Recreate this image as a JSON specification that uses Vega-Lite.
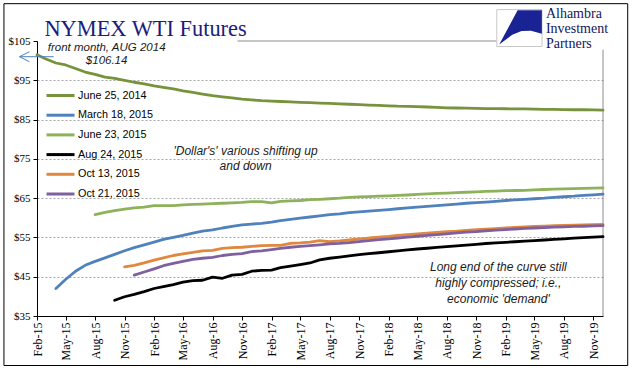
{
  "$schema": "https://vega.github.io/schema/vega-lite/v6.json",
  "autosize": {"type": "none"},
  "padding": {"left": 37, "top": 41, "right": 38, "bottom": 70},
  "width": 566,
  "height": 275,
  "background": "white",
  "config": {
    "view": {"stroke": null},
    "font": "Liberation Sans",
    "axis": {"labelOverlap": false, "labelFlush": false}
  },
  "layer": [
    {
      "data": {"values": [{}]},
      "mark": {"type": "rect", "fill": "#FFFFFF", "fillOpacity": 0, "stroke": "#000000", "strokeWidth": 1, "clip": false},
      "encoding": {
        "x": {"datum": {"year": 2014, "month": 10, "date": 21, "utc": true}, "type": "temporal"},
        "x2": {"datum": {"year": 2020, "month": 2, "date": 16, "utc": true}},
        "y": {"datum": 114.5, "type": "quantitative"},
        "y2": {"datum": 22.4}
      }
    },
    {
      "data": {"values": [{}]},
      "mark": {"type": "rule", "stroke": "#8C8C8C", "strokeWidth": 1},
      "encoding": {
        "x": {"datum": {"year": 2019, "month": 12, "date": 1, "utc": true}, "type": "temporal"},
        "y": {"datum": 35, "type": "quantitative"},
        "y2": {"datum": 102.8}
      }
    },
    {
      "data": {"values": [{}]},
      "mark": {"type": "rule", "stroke": "#8C8C8C", "strokeWidth": 1},
      "encoding": {
        "x": {"datum": {"year": 2016, "month": 10, "date": 18, "utc": true}, "type": "temporal"},
        "x2": {"datum": {"year": 2019, "month": 1, "date": 4, "utc": true}},
        "y": {"datum": 105, "type": "quantitative"}
      }
    },
    {
      "data": {
        "values": [
          {"month": "2015-02-01", "June 25, 2014": 101.5},
          {"month": "2015-03-01", "June 25, 2014": 100.4},
          {"month": "2015-04-01", "June 25, 2014": 99.4, "March 18, 2015": 42.0},
          {"month": "2015-05-01", "June 25, 2014": 98.9, "March 18, 2015": 44.3},
          {"month": "2015-06-01", "June 25, 2014": 98.0, "March 18, 2015": 46.4},
          {"month": "2015-07-01", "June 25, 2014": 97.1, "March 18, 2015": 47.9},
          {"month": "2015-08-01", "June 25, 2014": 96.5, "March 18, 2015": 48.9, "June 23, 2015": 60.8},
          {"month": "2015-09-01", "June 25, 2014": 95.8, "March 18, 2015": 49.8, "June 23, 2015": 61.4},
          {"month": "2015-10-01", "June 25, 2014": 95.5, "March 18, 2015": 50.7, "June 23, 2015": 61.8, "Aug 24, 2015": 39.0},
          {"month": "2015-11-01", "June 25, 2014": 95.0, "March 18, 2015": 51.6, "June 23, 2015": 62.2, "Aug 24, 2015": 39.9, "Oct 13, 2015": 47.5},
          {"month": "2015-12-01", "June 25, 2014": 94.5, "March 18, 2015": 52.4, "June 23, 2015": 62.5, "Aug 24, 2015": 40.5, "Oct 13, 2015": 47.9, "Oct 21, 2015": 45.4},
          {"month": "2016-01-01", "June 25, 2014": 94.1, "March 18, 2015": 53.1, "June 23, 2015": 62.7, "Aug 24, 2015": 41.2, "Oct 13, 2015": 48.5, "Oct 21, 2015": 46.2},
          {"month": "2016-02-01", "June 25, 2014": 93.6, "March 18, 2015": 53.8, "June 23, 2015": 63.1, "Aug 24, 2015": 42.0, "Oct 13, 2015": 49.2, "Oct 21, 2015": 47.0},
          {"month": "2016-03-01", "June 25, 2014": 93.2, "March 18, 2015": 54.5, "June 23, 2015": 63.1, "Aug 24, 2015": 42.5, "Oct 13, 2015": 49.8, "Oct 21, 2015": 47.8},
          {"month": "2016-04-01", "June 25, 2014": 92.8, "March 18, 2015": 55.0, "June 23, 2015": 63.1, "Aug 24, 2015": 43.0, "Oct 13, 2015": 50.4, "Oct 21, 2015": 48.4},
          {"month": "2016-05-01", "June 25, 2014": 92.3, "March 18, 2015": 55.5, "June 23, 2015": 63.3, "Aug 24, 2015": 43.6, "Oct 13, 2015": 50.8, "Oct 21, 2015": 48.9},
          {"month": "2016-06-01", "June 25, 2014": 91.9, "March 18, 2015": 56.1, "June 23, 2015": 63.4, "Aug 24, 2015": 44.0, "Oct 13, 2015": 51.2, "Oct 21, 2015": 49.4},
          {"month": "2016-07-01", "June 25, 2014": 91.5, "March 18, 2015": 56.6, "June 23, 2015": 63.5, "Aug 24, 2015": 44.1, "Oct 13, 2015": 51.6, "Oct 21, 2015": 49.7},
          {"month": "2016-08-01", "June 25, 2014": 91.1, "March 18, 2015": 56.9, "June 23, 2015": 63.6, "Aug 24, 2015": 44.9, "Oct 13, 2015": 51.7, "Oct 21, 2015": 49.9},
          {"month": "2016-09-01", "June 25, 2014": 90.8, "March 18, 2015": 57.4, "June 23, 2015": 63.7, "Aug 24, 2015": 44.6, "Oct 13, 2015": 52.2, "Oct 21, 2015": 50.4},
          {"month": "2016-10-01", "June 25, 2014": 90.5, "March 18, 2015": 57.8, "June 23, 2015": 63.8, "Aug 24, 2015": 45.4, "Oct 13, 2015": 52.4, "Oct 21, 2015": 50.7},
          {"month": "2016-11-01", "June 25, 2014": 90.2, "March 18, 2015": 58.2, "June 23, 2015": 63.9, "Aug 24, 2015": 45.6, "Oct 13, 2015": 52.5, "Oct 21, 2015": 50.9},
          {"month": "2016-12-01", "June 25, 2014": 90.0, "March 18, 2015": 58.4, "June 23, 2015": 64.1, "Aug 24, 2015": 46.4, "Oct 13, 2015": 52.7, "Oct 21, 2015": 51.4},
          {"month": "2017-01-01", "June 25, 2014": 89.8, "March 18, 2015": 58.6, "June 23, 2015": 64.1, "Aug 24, 2015": 46.6, "Oct 13, 2015": 52.9, "Oct 21, 2015": 51.6},
          {"month": "2017-02-01", "June 25, 2014": 89.7, "March 18, 2015": 58.9, "June 23, 2015": 63.8, "Aug 24, 2015": 46.7, "Oct 13, 2015": 53.0, "Oct 21, 2015": 51.9},
          {"month": "2017-03-01", "June 25, 2014": 89.6, "March 18, 2015": 59.3, "June 23, 2015": 64.2, "Aug 24, 2015": 47.3, "Oct 13, 2015": 53.0, "Oct 21, 2015": 52.2},
          {"month": "2017-04-01", "June 25, 2014": 89.5, "March 18, 2015": 59.6, "June 23, 2015": 64.3, "Aug 24, 2015": 47.7, "Oct 13, 2015": 53.5, "Oct 21, 2015": 52.5},
          {"month": "2017-05-01", "June 25, 2014": 89.4, "March 18, 2015": 59.9, "June 23, 2015": 64.4, "Aug 24, 2015": 48.1, "Oct 13, 2015": 53.6, "Oct 21, 2015": 52.7},
          {"month": "2017-06-01", "June 25, 2014": 89.3, "March 18, 2015": 60.2, "June 23, 2015": 64.6, "Aug 24, 2015": 48.5, "Oct 13, 2015": 53.8, "Oct 21, 2015": 52.9},
          {"month": "2017-07-01", "June 25, 2014": 89.2, "March 18, 2015": 60.5, "June 23, 2015": 64.7, "Aug 24, 2015": 49.3, "Oct 13, 2015": 54.2, "Oct 21, 2015": 53.1},
          {"month": "2017-08-01", "June 25, 2014": 89.1, "March 18, 2015": 60.8, "June 23, 2015": 64.85, "Aug 24, 2015": 49.7, "Oct 13, 2015": 53.9, "Oct 21, 2015": 53.35},
          {"month": "2017-09-01", "June 25, 2014": 89.0, "March 18, 2015": 61.0, "June 23, 2015": 65.0, "Aug 24, 2015": 50.0, "Oct 13, 2015": 54.1, "Oct 21, 2015": 53.5},
          {"month": "2017-10-01", "June 25, 2014": 88.9, "March 18, 2015": 61.3, "June 23, 2015": 65.2, "Aug 24, 2015": 50.3, "Oct 13, 2015": 54.35, "Oct 21, 2015": 53.7},
          {"month": "2017-11-01", "June 25, 2014": 88.8, "March 18, 2015": 61.5, "June 23, 2015": 65.3, "Aug 24, 2015": 50.6, "Oct 13, 2015": 54.6, "Oct 21, 2015": 53.95},
          {"month": "2017-12-01", "June 25, 2014": 88.7, "March 18, 2015": 61.7, "June 23, 2015": 65.4, "Aug 24, 2015": 50.9, "Oct 13, 2015": 54.85, "Oct 21, 2015": 54.2},
          {"month": "2018-01-01", "June 25, 2014": 88.6, "March 18, 2015": 61.9, "June 23, 2015": 65.5, "Aug 24, 2015": 51.1, "Oct 13, 2015": 55.05, "Oct 21, 2015": 54.45},
          {"month": "2018-02-01", "June 25, 2014": 88.5, "March 18, 2015": 62.1, "June 23, 2015": 65.6, "Aug 24, 2015": 51.35, "Oct 13, 2015": 55.25, "Oct 21, 2015": 54.65},
          {"month": "2018-03-01", "June 25, 2014": 88.4, "March 18, 2015": 62.3, "June 23, 2015": 65.7, "Aug 24, 2015": 51.6, "Oct 13, 2015": 55.5, "Oct 21, 2015": 54.85},
          {"month": "2018-04-01", "June 25, 2014": 88.35, "March 18, 2015": 62.5, "June 23, 2015": 65.8, "Aug 24, 2015": 51.85, "Oct 13, 2015": 55.7, "Oct 21, 2015": 55.1},
          {"month": "2018-05-01", "June 25, 2014": 88.3, "March 18, 2015": 62.7, "June 23, 2015": 65.95, "Aug 24, 2015": 52.05, "Oct 13, 2015": 55.9, "Oct 21, 2015": 55.3},
          {"month": "2018-06-01", "June 25, 2014": 88.2, "March 18, 2015": 62.9, "June 23, 2015": 66.1, "Aug 24, 2015": 52.25, "Oct 13, 2015": 56.1, "Oct 21, 2015": 55.5},
          {"month": "2018-07-01", "June 25, 2014": 88.1, "March 18, 2015": 63.1, "June 23, 2015": 66.2, "Aug 24, 2015": 52.45, "Oct 13, 2015": 56.3, "Oct 21, 2015": 55.7},
          {"month": "2018-08-01", "June 25, 2014": 88.0, "March 18, 2015": 63.3, "June 23, 2015": 66.3, "Aug 24, 2015": 52.65, "Oct 13, 2015": 56.45, "Oct 21, 2015": 55.9},
          {"month": "2018-09-01", "June 25, 2014": 87.95, "March 18, 2015": 63.5, "June 23, 2015": 66.4, "Aug 24, 2015": 52.85, "Oct 13, 2015": 56.6, "Oct 21, 2015": 56.15},
          {"month": "2018-10-01", "June 25, 2014": 87.9, "March 18, 2015": 63.7, "June 23, 2015": 66.5, "Aug 24, 2015": 53.05, "Oct 13, 2015": 56.8, "Oct 21, 2015": 56.35},
          {"month": "2018-11-01", "June 25, 2014": 87.85, "March 18, 2015": 63.85, "June 23, 2015": 66.6, "Aug 24, 2015": 53.25, "Oct 13, 2015": 56.95, "Oct 21, 2015": 56.5},
          {"month": "2018-12-01", "June 25, 2014": 87.8, "March 18, 2015": 64.0, "June 23, 2015": 66.7, "Aug 24, 2015": 53.45, "Oct 13, 2015": 57.1, "Oct 21, 2015": 56.7},
          {"month": "2019-01-01", "June 25, 2014": 87.8, "March 18, 2015": 64.2, "June 23, 2015": 66.8, "Aug 24, 2015": 53.6, "Oct 13, 2015": 57.25, "Oct 21, 2015": 56.85},
          {"month": "2019-02-01", "June 25, 2014": 87.75, "March 18, 2015": 64.4, "June 23, 2015": 66.9, "Aug 24, 2015": 53.75, "Oct 13, 2015": 57.4, "Oct 21, 2015": 57.0},
          {"month": "2019-03-01", "June 25, 2014": 87.7, "March 18, 2015": 64.55, "June 23, 2015": 66.95, "Aug 24, 2015": 53.9, "Oct 13, 2015": 57.55, "Oct 21, 2015": 57.15},
          {"month": "2019-04-01", "June 25, 2014": 87.7, "March 18, 2015": 64.7, "June 23, 2015": 67.0, "Aug 24, 2015": 54.05, "Oct 13, 2015": 57.7, "Oct 21, 2015": 57.3},
          {"month": "2019-05-01", "June 25, 2014": 87.65, "March 18, 2015": 64.85, "June 23, 2015": 67.1, "Aug 24, 2015": 54.2, "Oct 13, 2015": 57.8, "Oct 21, 2015": 57.4},
          {"month": "2019-06-01", "June 25, 2014": 87.6, "March 18, 2015": 65.0, "June 23, 2015": 67.2, "Aug 24, 2015": 54.35, "Oct 13, 2015": 57.9, "Oct 21, 2015": 57.5},
          {"month": "2019-07-01", "June 25, 2014": 87.6, "March 18, 2015": 65.2, "June 23, 2015": 67.3, "Aug 24, 2015": 54.5, "Oct 13, 2015": 58.0, "Oct 21, 2015": 57.6},
          {"month": "2019-08-01", "June 25, 2014": 87.55, "March 18, 2015": 65.35, "June 23, 2015": 67.35, "Aug 24, 2015": 54.65, "Oct 13, 2015": 58.05, "Oct 21, 2015": 57.7},
          {"month": "2019-09-01", "June 25, 2014": 87.5, "March 18, 2015": 65.5, "June 23, 2015": 67.4, "Aug 24, 2015": 54.8, "Oct 13, 2015": 58.1, "Oct 21, 2015": 57.8},
          {"month": "2019-10-01", "June 25, 2014": 87.5, "March 18, 2015": 65.7, "June 23, 2015": 67.5, "Aug 24, 2015": 54.95, "Oct 13, 2015": 58.2, "Oct 21, 2015": 57.85},
          {"month": "2019-11-01", "June 25, 2014": 87.45, "March 18, 2015": 65.85, "June 23, 2015": 67.55, "Aug 24, 2015": 55.1, "Oct 13, 2015": 58.25, "Oct 21, 2015": 57.95},
          {"month": "2019-12-01", "June 25, 2014": 87.4, "March 18, 2015": 66.0, "June 23, 2015": 67.6, "Aug 24, 2015": 55.2, "Oct 13, 2015": 58.3, "Oct 21, 2015": 58.0}
        ]
      },
      "transform": [
        {"fold": ["June 25, 2014", "March 18, 2015", "June 23, 2015", "Aug 24, 2015", "Oct 13, 2015", "Oct 21, 2015"], "as": ["series", "price"]}
      ],
      "mark": {"type": "line", "strokeWidth": 2.8, "strokeJoin": "round", "strokeCap": "round"},
      "encoding": {
        "x": {
          "field": "month",
          "type": "temporal",
          "scale": {"type": "utc", "domain": [{"year": 2015, "month": 2, "date": 1, "utc": true}, {"year": 2019, "month": 12, "date": 1, "utc": true}]},
          "axis": {
            "title": null,
            "format": "%b-%y",
            "labelAngle": 270,
            "labelFont": "Liberation Serif",
            "labelFontSize": 12,
            "labelColor": "#000",
            "labelPadding": 2,
            "tickSize": 4,
            "tickColor": "#000",
            "tickCount": 60,
            "domainColor": "#000",
            "grid": false,
            "labelOverlap": false,
            "labelFlush": false,
            "values": [
              {"year": 2015, "month": 2, "date": 1, "utc": true},
              {"year": 2015, "month": 5, "date": 1, "utc": true},
              {"year": 2015, "month": 8, "date": 1, "utc": true},
              {"year": 2015, "month": 11, "date": 1, "utc": true},
              {"year": 2016, "month": 2, "date": 1, "utc": true},
              {"year": 2016, "month": 5, "date": 1, "utc": true},
              {"year": 2016, "month": 8, "date": 1, "utc": true},
              {"year": 2016, "month": 11, "date": 1, "utc": true},
              {"year": 2017, "month": 2, "date": 1, "utc": true},
              {"year": 2017, "month": 5, "date": 1, "utc": true},
              {"year": 2017, "month": 8, "date": 1, "utc": true},
              {"year": 2017, "month": 11, "date": 1, "utc": true},
              {"year": 2018, "month": 2, "date": 1, "utc": true},
              {"year": 2018, "month": 5, "date": 1, "utc": true},
              {"year": 2018, "month": 8, "date": 1, "utc": true},
              {"year": 2018, "month": 11, "date": 1, "utc": true},
              {"year": 2019, "month": 2, "date": 1, "utc": true},
              {"year": 2019, "month": 5, "date": 1, "utc": true},
              {"year": 2019, "month": 8, "date": 1, "utc": true},
              {"year": 2019, "month": 11, "date": 1, "utc": true}
            ]
          }
        },
        "y": {
          "field": "price",
          "type": "quantitative",
          "scale": {"domain": [35, 105], "nice": false, "zero": false},
          "axis": {
            "title": null,
            "values": [35, 45, 55, 65, 75, 85, 95, 105],
            "tickCount": 40,
            "format": "$.0f",
            "labelFont": "Liberation Serif",
            "labelFontSize": 11,
            "labelColor": "#000",
            "labelPadding": 3,
            "labelOverlap": false,
            "labelFlush": false,
            "tickSize": 4,
            "tickColor": "#000",
            "domainColor": "#000",
            "grid": true,
            "gridColor": "#A6A6A6",
            "gridDash": [2, 2],
            "gridOpacity": {"condition": {"test": "datum.value == 35 || datum.value == 105", "value": 0}, "value": 1}
          }
        },
        "color": {
          "field": "series",
          "type": "nominal",
          "sort": null,
          "scale": {
            "domain": ["June 25, 2014", "March 18, 2015", "June 23, 2015", "Aug 24, 2015", "Oct 13, 2015", "Oct 21, 2015"],
            "range": ["#77933C", "#4F81BD", "#8DB259", "#000000", "#E0883F", "#7E60A0"]
          },
          "legend": {
            "orient": "none",
            "legendX": 15,
            "legendY": 46,
            "title": null,
            "padding": 0,
            "symbolType": "M-2,0H2",
            "symbolStrokeWidth": 3,
            "symbolSize": 196,
            "labelFont": "Liberation Sans",
            "labelFontSize": 10.8,
            "labelColor": "#000",
            "labelOffset": 9,
            "rowPadding": 4.7
          }
        }
      }
    },
    {
      "data": {"values": [{}]},
      "mark": {"type": "rule", "stroke": "#4F81BD", "strokeWidth": 1, "clip": false},
      "encoding": {
        "x": {"datum": {"year": 2014, "month": 12, "date": 9, "utc": true}, "type": "temporal"},
        "x2": {"datum": {"year": 2015, "month": 3, "date": 25, "utc": true}},
        "y": {"datum": 101.0, "type": "quantitative"}
      }
    },
    {
      "data": {"values": [{}]},
      "mark": {"type": "point", "shape": "M1,-1L-1,0L1,1", "filled": false, "stroke": "#4F81BD", "strokeWidth": 1, "size": 100, "opacity": 1, "clip": false},
      "encoding": {
        "x": {"datum": {"year": 2014, "month": 12, "date": 24, "utc": true}, "type": "temporal"},
        "y": {"datum": 101.0, "type": "quantitative"}
      }
    },
    {
      "data": {"values": [{"label": "NYMEX WTI Futures"}]},
      "mark": {"type": "text", "font": "Liberation Serif", "fontSize": 22.4, "align": "left", "baseline": "alphabetic", "color": "#1C1C7C", "clip": false},
      "encoding": {
        "text": {"field": "label"},
        "x": {"datum": {"year": 2015, "month": 2, "date": 24, "utc": true}, "type": "temporal"},
        "y": {"datum": 106.4, "type": "quantitative"}
      }
    },
    {
      "data": {"values": [{"label": "front month, AUG 2014\n$106.14"}]},
      "mark": {"type": "text", "lineBreak": "\n", "font": "Liberation Sans", "fontStyle": "italic", "fontSize": 11.5, "lineHeight": 13.3, "align": "center", "baseline": "middle", "color": "#1A1A1A"},
      "encoding": {
        "text": {"field": "label"},
        "x": {"datum": {"year": 2015, "month": 9, "date": 6, "utc": true}, "type": "temporal"},
        "y": {"datum": 103.2, "type": "quantitative"}
      }
    },
    {
      "data": {"values": [{"label": "'Dollar's' various shifting up\nand down"}]},
      "mark": {"type": "text", "lineBreak": "\n", "font": "Liberation Sans", "fontStyle": "italic", "fontSize": 12, "lineHeight": 14.5, "align": "center", "baseline": "middle", "color": "#1A1A1A"},
      "encoding": {
        "text": {"field": "label"},
        "x": {"datum": {"year": 2016, "month": 11, "date": 12, "utc": true}, "type": "temporal"},
        "y": {"datum": 77.0, "type": "quantitative"}
      }
    },
    {
      "data": {"values": [{"label": "Long end of the curve still\nhighly compressed;  i.e.,\neconomic 'demand'"}]},
      "mark": {"type": "text", "lineBreak": "\n", "font": "Liberation Sans", "fontStyle": "italic", "fontSize": 12, "lineHeight": 16.2, "align": "center", "baseline": "middle", "color": "#1A1A1A"},
      "encoding": {
        "text": {"field": "label"},
        "x": {"datum": {"year": 2019, "month": 1, "date": 9, "utc": true}, "type": "temporal"},
        "y": {"datum": 47.55, "type": "quantitative"}
      }
    },
    {
      "data": {"values": [{}]},
      "mark": {"type": "rect", "fill": "#FFFFFF", "stroke": "#C8C8C8", "strokeWidth": 1, "clip": false},
      "encoding": {
        "x": {"datum": {"year": 2019, "month": 1, "date": 4, "utc": true}, "type": "temporal"},
        "x2": {"datum": {"year": 2019, "month": 5, "date": 25, "utc": true}},
        "y": {"datum": 113.0, "type": "quantitative"},
        "y2": {"datum": 103.6}
      }
    },
    {
      "data": {"values": [{}]},
      "mark": {"type": "point", "shape": "M-0.07,-0.76L0.97,-0.76L0.97,0.25L0.5,0.12L0.1,0.14L-0.3,0.3L-0.86,0.72Z", "filled": true, "fill": "#1A2394", "strokeWidth": 0, "size": 2172, "opacity": 1, "clip": false},
      "encoding": {
        "x": {"datum": {"year": 2019, "month": 3, "date": 15, "utc": true}, "type": "temporal"},
        "y": {"datum": 108.35, "type": "quantitative"}
      }
    },
    {
      "data": {"values": [{"label": "Alhambra\nInvestment\nPartners"}]},
      "mark": {"type": "text", "lineBreak": "\n", "font": "Liberation Serif", "fontSize": 14, "lineHeight": 15, "align": "left", "baseline": "alphabetic", "color": "#15155A", "clip": false},
      "encoding": {
        "text": {"field": "label"},
        "x": {"datum": {"year": 2019, "month": 6, "date": 6, "utc": true}, "type": "temporal"},
        "y": {"datum": 110.8, "type": "quantitative"}
      }
    }
  ]
}
